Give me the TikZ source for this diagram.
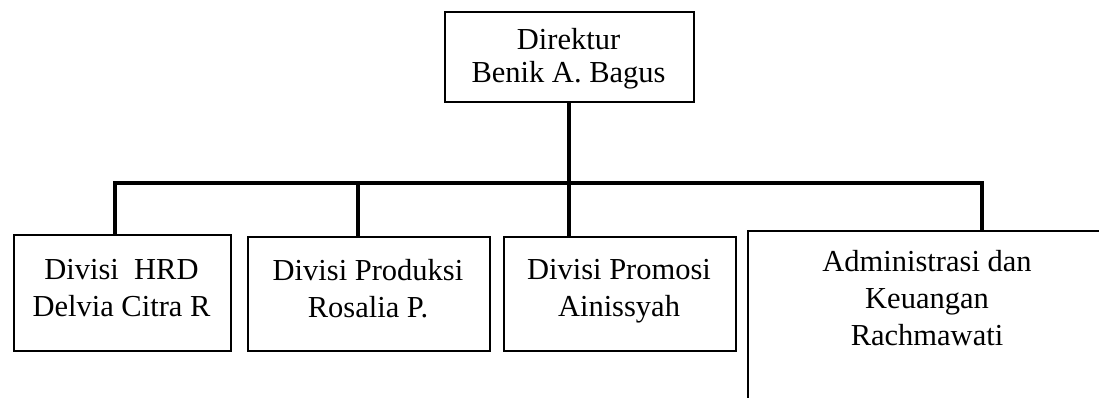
\documentclass[tikz,border=0pt]{standalone}
\usepackage{fontspec}
\setmainfont{Liberation Serif}
\begin{document}
\begin{tikzpicture}[x=1pt,y=-1pt,
  box/.style={draw, line width=1.6pt, rectangle, inner sep=0pt, anchor=north west},
  conn/.style={line width=4pt},
  lbl/.style={font=\fontsize{30.5}{37}\selectfont, align=center, inner sep=0pt}]
\useasboundingbox (0,0) rectangle (1099,398);
\fill[white] (0,0) rectangle (1099,398);
% boxes
\node[box, minimum width=249pt, minimum height=90pt] (dir) at (444,11) {};
\node[box, minimum width=217pt, minimum height=116pt] (hrd) at (13,234) {};
\node[box, minimum width=242pt, minimum height=114pt] (prod) at (247,236) {};
\node[box, minimum width=232pt, minimum height=114pt] (prom) at (503,236) {};
\node[box, minimum width=370pt, minimum height=190pt] (adm) at (747,230) {};
% labels
\node[lbl, font=\fontsize{30.5}{33}\selectfont] (dirt) at (568.5,59) {Direktur\\Benik A. Bagus};
\node[lbl] (hrdt) at (121.5,288) {Divisi~ HRD\\Delvia Citra R};
\node[lbl] (prodt) at (368,289) {Divisi Produksi\\Rosalia P.};
\node[lbl] (promt) at (619,291) {Divisi Promosi\\Ainissyah};
\node[lbl] (admt) at (927,298) {Administrasi dan\\Keuangan\\Rachmawati};
% connectors
\coordinate (j1) at (115,183);
\coordinate (j2) at (358,183);
\coordinate (j4) at (982,183);
\draw[conn] (j1 |- hrd.north) -- (j1) -- (j4) -- (j4 |- adm.north);
\draw[conn] (j2) -- (j2 |- prod.north);
\draw[conn] (dir.south) -- (dir.south |- prom.north);
\end{tikzpicture}
\end{document}
